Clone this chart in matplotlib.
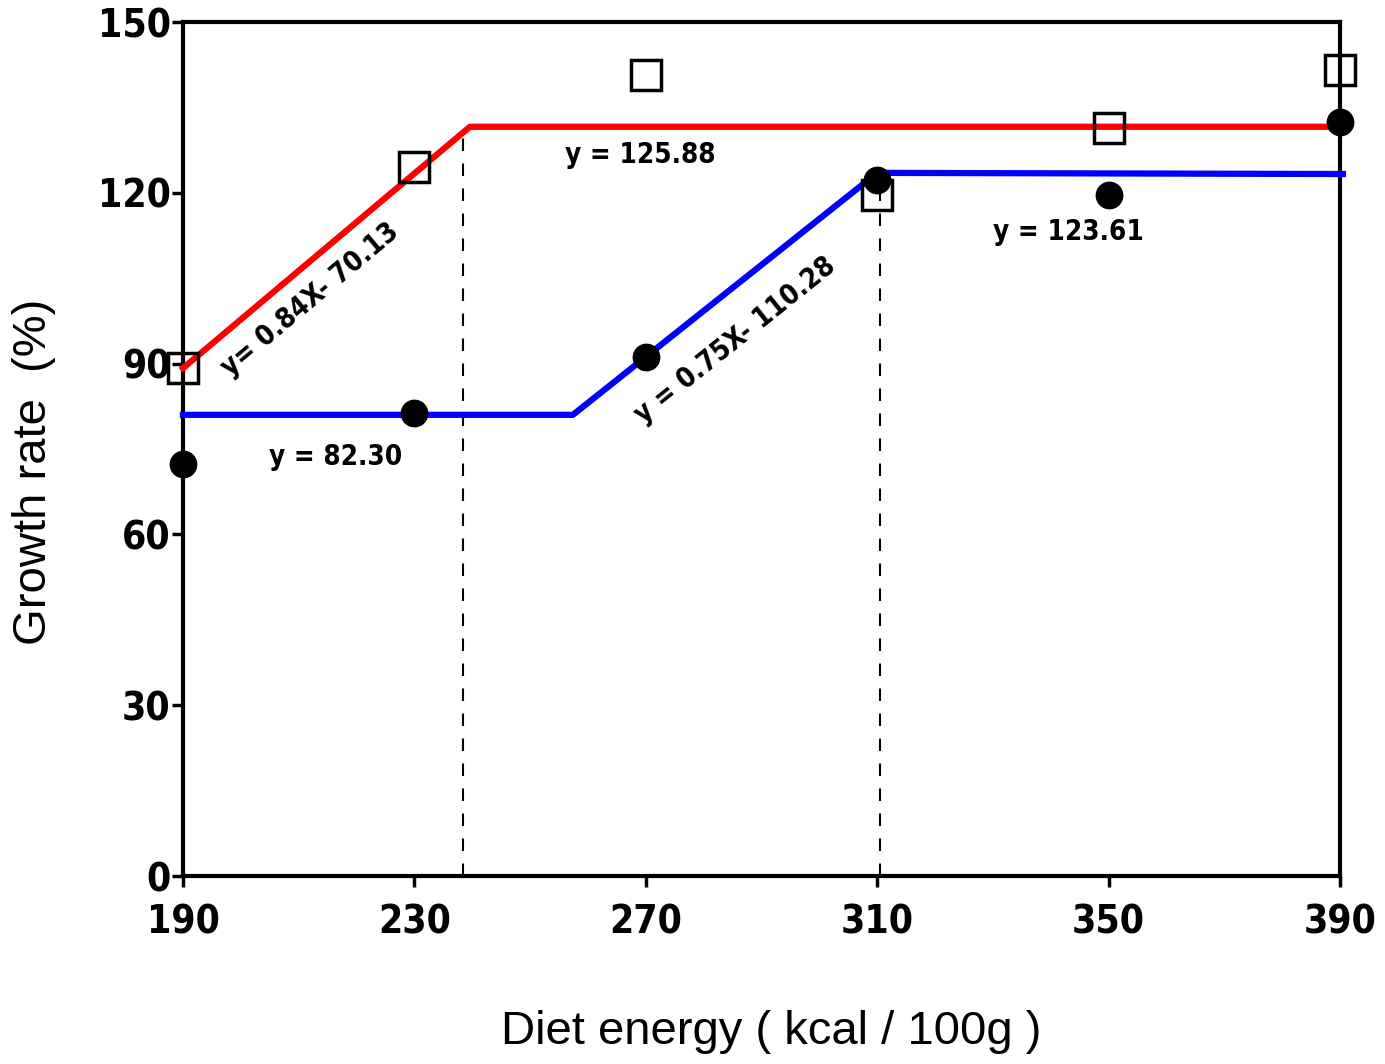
import matplotlib.pyplot as plt

# diet energy levels and growth rates
energy = [190, 230, 270, 310, 350, 390]
squares = [89.2, 124.5, 140.7, 119.6, 131.4, 141.6]
circles = [72.4, 81.4, 91.2, 122.3, 119.6, 132.4]

# broken-line fits
red_x = [190, 239.6, 390]
red_y = [89.2, 131.6, 131.6]
blue_x = [190, 257.4, 310, 390.5]
blue_y = [81.0, 81.0, 123.5, 123.3]

# break points (dashed verticals)
break_x = [238.4, 310.5]
break_top = [131.6, 120]

xticks = [190, 230, 270, 310, 350, 390]
yticks = [0, 30, 60, 90, 120, 150]

fig = plt.figure(figsize=(13.85, 10.64), dpi=100)
ax = fig.add_axes([183 / 1385, 1 - 876 / 1064, (1340 - 183) / 1385, (876 - 22) / 1064])

for bx, bt in zip(break_x, break_top):
    ax.plot([bx, bx], [0, bt], color='black', lw=1.5, ls=(0, (6, 6)), zorder=1)

ax.plot(red_x, red_y, color='#ff0000', lw=4.5, zorder=3, clip_on=False)
ax.plot(blue_x, blue_y, color='#0000ff', lw=4.5, zorder=3, clip_on=False)

ax.plot(energy, squares, ls='none', marker='s', ms=22, mfc='none', mec='black', mew=2.5,
        zorder=4, clip_on=False)
ax.plot(energy, circles, ls='none', marker='o', ms=19, mfc='black', mec='black',
        zorder=4, clip_on=False)

tkw = dict(fontsize=20, fontweight='bold', fontstretch='condensed', ha='center', va='center',
           family='DejaVu Sans')
ax.text(212, 101.2, 'y= 0.84X- 70.13', rotation=40, **tkw)
ax.text(269, 126.6, 'y = 125.88', **tkw)
ax.text(216.3, 73.6, 'y = 82.30', **tkw)
ax.text(285.4, 94.1, 'y = 0.75X- 110.28', rotation=38.7, **tkw)
ax.text(343, 113.1, 'y = 123.61', **tkw)

ax.set_xlim(190, 390)
ax.set_ylim(0, 150)
ax.set_xticks(xticks)
ax.set_yticks(yticks)
for side in ['left', 'right', 'top', 'bottom']:
    ax.spines[side].set_linewidth(3)
ax.tick_params(direction='out', length=8, width=2.5)
ax.tick_params(axis='x', pad=12)
ax.tick_params(axis='y', pad=1)
for lab in ax.get_xticklabels() + ax.get_yticklabels():
    lab.set_fontsize(28)
    lab.set_fontweight('bold')
    lab.set_fontstretch('condensed')

ax.set_ylabel('Growth rate  (%)', fontsize=34, family='Liberation Sans')
ax.set_xlabel('Diet energy ( kcal / 100g )', fontsize=34, family='Liberation Sans')
ax.yaxis.set_label_coords(-0.11, 0.473)
ax.xaxis.set_label_coords(0.508, -0.157)

fig.savefig('out.png', dpi=100)
